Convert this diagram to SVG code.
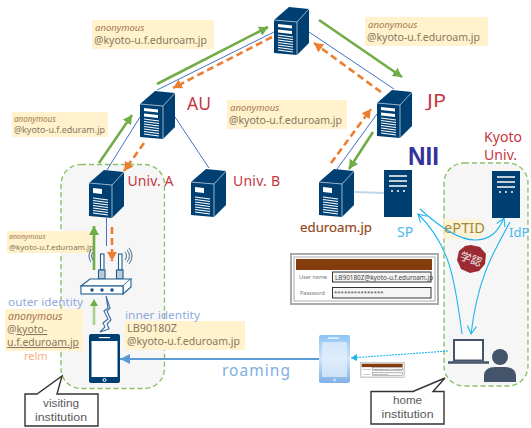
<svg xmlns="http://www.w3.org/2000/svg" width="531" height="428" viewBox="0 0 531 428">
<style>
text{font-family:"Noto Sans","Liberation Sans",sans-serif}
.zone{fill:#f6f6f6;stroke:#8cc068;stroke-width:1.4;stroke-dasharray:5 3}
.lab{fill:#fff2cc}
.an{font-style:italic;fill:#a5784f}
.em{fill:#8a7660}
.red{fill:#c6363f}
.idn{fill:#8faadc;font-size:11.5px}
.link{stroke:#4472c4;stroke-width:1;fill:none}
.gr{stroke:#70ad47;stroke-width:2.6;fill:none;marker-end:url(#gh)}
.or{stroke:#ed7d31;stroke-width:2.6;fill:none;stroke-dasharray:7 4;marker-end:url(#oh)}
.cy{stroke:#1eb4ef;stroke-width:1.1;fill:none}
.call{fill:#fff;stroke:#333;stroke-width:1.4}
.callt{fill:#595959;font-size:11.500px;text-anchor:middle;font-family:"Liberation Sans",sans-serif}
.navy{fill:#003f72}
.w{fill:#fff}
</style>
<defs>
<marker id="gh" markerUnits="userSpaceOnUse" markerWidth="10" markerHeight="10" refX="9" refY="5" orient="auto"><path d="M0 0L9 5L0 10Z" fill="#70ad47"/></marker>
<marker id="oh" markerUnits="userSpaceOnUse" markerWidth="10" markerHeight="10" refX="9" refY="5" orient="auto"><path d="M0 0L9 5L0 10Z" fill="#ed7d31"/></marker>
<marker id="bh" markerUnits="userSpaceOnUse" markerWidth="11" markerHeight="10" refX="10" refY="5" orient="auto"><path d="M0 0L10 5L0 10Z" fill="#5b9bd5"/></marker>
<marker id="ch" markerUnits="userSpaceOnUse" markerWidth="7" markerHeight="7" refX="6" refY="3.5" orient="auto"><path d="M0 0L6 3.5L0 7Z" fill="#1eb4ef"/></marker>
<marker id="co" markerUnits="userSpaceOnUse" markerWidth="10" markerHeight="10" refX="9" refY="5" orient="auto"><path d="M1 0.5L9 5L1 9.5" fill="none" stroke="#1eb4ef" stroke-width="1.1"/></marker>
<linearGradient id="tab" x1="0" y1="0" x2="0" y2="1"><stop offset="0" stop-color="#8fc3f5"/><stop offset=".5" stop-color="#cfe4fa"/><stop offset="1" stop-color="#7fb0e6"/></linearGradient>
<g id="tower">
<path class="navy" d="M0 13L15 0L35 2L35 36L23 48L0 46Z"/>
<path d="M0 13L23 15L35 2M23 15V48" stroke="#fff" stroke-width=".6" fill="none"/>
<g stroke="#fff" stroke-width="1.1"><path d="M4 28L19 30M4 30.5L19 32.5M4 33L19 35M4 35.5L19 37.5M4 38L19 40M4 40.5L19 42.5M4 43L19 45"/></g>
</g>
<g id="t2"><use href="#tower"/><path class="w" d="M4 17L18 18.5V21.500L4 20ZM4 22.500L18 24V27L4 25.500Z"/></g>
<g id="t1"><use href="#tower"/><path class="w" d="M4 18L13 19V24L4 23Z"/></g>
<g id="rack">
<rect class="navy" width="28" height="47"/>
<path d="M5 6H23M5 11H23M5 16H23" stroke="#fff" stroke-width="1.6"/>
<circle class="w" cx="8" cy="21" r="1"/><circle class="w" cx="14" cy="21" r="1"/><circle class="w" cx="20" cy="21" r="1"/>
</g>
<g id="form">
<rect x="291" y="254" width="147" height="50" fill="#fff" stroke="#aaa" stroke-width="2"/>
<rect x="294" y="257" width="141" height="44" fill="#fff" stroke="#aaa" stroke-width="1"/>
<rect x="296" y="259" width="136" height="11" fill="#843c0c"/>
<rect x="332.500" y="272" width="98.500" height="10" fill="#f5f5f5" stroke="#333" stroke-width="1"/>
<rect x="332.500" y="287.500" width="98.500" height="10.500" fill="#f5f5f5" stroke="#333" stroke-width="1"/>
<text x="299" y="279" font-size="5.500" fill="#777">User name</text>
<text x="300" y="295" font-size="5.500" fill="#777">Password</text>
<text x="335" y="280" font-size="6.400" fill="#444">LB90180Z@kyoto-u.f.eduroam.jp</text>
<text x="334" y="295" font-size="6" fill="#444">***************</text>
</g>
</defs>
<rect width="531" height="428" fill="#fff"/>

<g id="visiting-zone"><rect class="zone" x="61" y="164.500" width="103.500" height="224" rx="20"/></g>
<g id="home-zone"><rect class="zone" x="444" y="163" width="84" height="223" rx="20"/></g>

<g id="labels">
<rect class="lab" x="92" y="20" width="122" height="29"/>
<text class="an" x="95" y="31" font-size="9.500">anonymous</text>
<text class="em" x="94" y="44" font-size="10" textLength="113" lengthAdjust="spacingAndGlyphs">@kyoto-u.f.eduroam.jp</text>
<rect class="lab" x="365" y="17" width="123" height="29"/>
<text class="an" x="368" y="28" font-size="9.500">anonymous</text>
<text class="em" x="367" y="41" font-size="10" textLength="113" lengthAdjust="spacingAndGlyphs">@kyoto-u.f.eduroam.jp</text>
<rect class="lab" x="227" y="100" width="120" height="29"/>
<text class="an" x="230" y="111" font-size="9.500">anonymous</text>
<text class="em" x="229" y="124" font-size="10" textLength="113" lengthAdjust="spacingAndGlyphs">@kyoto-u.f.eduroam.jp</text>
<rect class="lab" x="12" y="112" width="96" height="25"/>
<text class="an" x="14" y="122" font-size="8">anonymous</text>
<text class="em" x="14" y="133" font-size="8.500" textLength="91" lengthAdjust="spacingAndGlyphs">@kyoto-u.f.eduram.jp</text>
<rect class="lab" x="7" y="231" width="87" height="22"/>
<text class="an" x="9" y="239" font-size="7">anonymous</text>
<text class="em" x="9" y="249.500" font-size="7.500" textLength="85" lengthAdjust="spacingAndGlyphs">@kyoto-u.f.eduroam.jp</text>
<rect class="lab" x="5" y="309" width="78" height="42"/>
<text class="an" x="8" y="320" font-size="10.500">anonymous</text>
<text class="em" x="7" y="333" font-size="10.500">@<tspan text-decoration="underline">kyoto-</tspan></text>
<text class="em" x="7" y="346" font-size="10.500" text-decoration="underline" textLength="72" lengthAdjust="spacingAndGlyphs">u.f.eduroam.jp</text>
<rect class="lab" x="125" y="321" width="120" height="29"/>
<text class="em" x="127" y="332" font-size="10.500" textLength="50" lengthAdjust="spacingAndGlyphs">LB90180Z</text>
<text class="em" x="127" y="345" font-size="10" textLength="113" lengthAdjust="spacingAndGlyphs">@kyoto-u.f.eduroam.jp</text>
<text class="idn" x="8" y="306" textLength="75" lengthAdjust="spacingAndGlyphs">outer identity</text>
<text class="idn" x="125" y="319" textLength="75" lengthAdjust="spacingAndGlyphs">inner identity</text>
<text x="24" y="360" font-size="11" fill="#f4b183">relm</text>
<rect x="443" y="219" width="39" height="20" fill="#fff2cc" opacity=".75"/>
<text x="444" y="233" font-size="14" fill="#a08a3c" textLength="41" lengthAdjust="spacingAndGlyphs">ePTID</text>
<text x="222" y="376" font-size="15.500" fill="#7eb0e0" textLength="68">roaming</text>
<text class="red" x="187" y="110" font-size="18" textLength="24" lengthAdjust="spacingAndGlyphs">AU</text>
<text class="red" x="427" y="107" font-size="18" textLength="19" lengthAdjust="spacingAndGlyphs">JP</text>
<text class="red" x="127.500" y="186" font-size="14" textLength="46">Univ. A</text>
<text class="red" x="233" y="186" font-size="14" textLength="47">Univ. B</text>
<text class="red" x="484" y="142" font-size="14" textLength="38">Kyoto</text>
<text class="red" x="484" y="160" font-size="14" textLength="33">Univ.</text>
<text x="408" y="165" font-size="25" font-weight="700" fill="#333399" style="font-family:'Liberation Sans',sans-serif" textLength="31" lengthAdjust="spacingAndGlyphs">NII</text>
<text x="300" y="232" font-size="13" fill="#94491a" stroke="#94491a" stroke-width=".2" textLength="72" lengthAdjust="spacingAndGlyphs">eduroam.jp</text>
<text x="397" y="237" font-size="14" fill="#4db8ee">SP</text>
<text x="509" y="237" font-size="13" fill="#4db8ee">IdP</text>
</g>

<g id="connectors">
<path class="link" d="M157 90L274 32M309 32L394 89M140 117L107 170M175 117L209 168M377 114L337 169M106.500 218V246"/>
<path d="M355 192L384 193" stroke="#bdd7ee" stroke-width="2" fill="none"/>
<path class="gr" d="M157 84L268 27"/>
<path class="gr" d="M319 20L402 77"/>
<path class="gr" d="M99 163L132 115"/>
<path class="gr" d="M373 132L349 169"/>
<path class="gr" d="M94 270V226"/>
<path d="M94 325V305" stroke="#a9d18e" stroke-width="2.600" fill="none"/>
<path d="M94 299L90 306H98Z" fill="#70ad47"/>
<path class="or" d="M272 37L173 88"/>
<path class="or" d="M144 143L124 171"/>
<path class="or" d="M381 92L314 43"/>
<path class="or" d="M331 163L371 109"/>
<path class="or" d="M112 227V261"/>
<path class="cy" d="M462 334C455 280 450 245 418 214" marker-end="url(#co)"/>
<path class="cy" d="M420 209C445 232 462 240 475 240C490 240 498 232 504 218" marker-end="url(#co)"/>
<path class="cy" d="M510 222C495 250 478 275 471 334" marker-end="url(#co)"/>
<path d="M448 351L351 358" stroke="#1eb4ef" stroke-width="1.100" stroke-dasharray="2 1" fill="none" marker-end="url(#ch)"/>
<path d="M319 359H120" stroke="#5b9bd5" stroke-width="2" fill="none" marker-end="url(#bh)"/>
</g>

<g id="server-top"><use href="#t2" x="274" y="7"/></g>
<g id="server-au"><use href="#t2" x="140" y="91"/></g>
<g id="server-jp"><use href="#t2" x="377" y="90"/></g>
<g id="server-univ-a"><use href="#t1" x="89" y="170"/></g>
<g id="server-univ-b"><use href="#t1" x="191" y="169"/></g>
<g id="server-eduroam"><use href="#t1" x="319" y="169"/></g>
<g id="server-sp"><use href="#rack" x="384" y="170"/></g>
<g id="server-idp"><use href="#rack" x="492" y="171"/></g>

<g id="access-point" fill="none" stroke="#1f5c8c" stroke-width="1.100">
<rect x="100.500" y="254" width="3.500" height="16" fill="#fff"/><rect x="118.500" y="254" width="3.500" height="16" fill="#fff"/>
<rect x="98.500" y="270" width="6.500" height="9" fill="#b7cbdc"/><rect x="116.500" y="270" width="6.500" height="9" fill="#b7cbdc"/>
<path d="M81 286L90 279H131L123 286Z" fill="#fff"/>
<path d="M131 279V287L123 294V286" fill="#fff"/>
<rect x="81" y="286" width="42" height="8" fill="#fff"/>
<circle cx="92" cy="290" r="1.200" fill="#1f3c6c"/><circle cx="102" cy="290" r="1.200" fill="#1f3c6c"/><circle cx="112" cy="290" r="1.200" fill="#1f3c6c"/>
<path d="M125 252Q128 256 125 260M127 250Q132 256 127 262M129 248Q135 256 129 264" stroke="#5d7c96"/>
<path d="M93 252Q90 256 93 260M91 250Q87 256 91 262" stroke="#5d7c96"/>
<path d="M106 296L108 308L104 311L108 319L103 323L105 327L100 332L109 329L107 324L111 320L107 311L110 308Z" fill="#fff" stroke="#3a6ba0"/>
</g>

<g id="phone">
<rect class="navy" x="89" y="334" width="31" height="49" rx="2"/>
<rect class="w" x="91.500" y="341" width="26" height="36"/>
<rect class="w" x="99" y="337" width="11" height="1.200"/>
<circle cx="104.500" cy="380" r="1.500" fill="none" stroke="#fff"/>
</g>
<g id="tablet">
<rect x="319" y="335" width="31" height="48" rx="2" fill="url(#tab)"/>
<rect x="322" y="342" width="25" height="35" fill="#e6f1fc" opacity=".7"/>
<rect class="w" x="328" y="337.500" width="11" height="1.200"/>
<circle cx="334.500" cy="380" r="1.500" fill="#cde"/>
</g>
<g id="login-form"><use href="#form"/></g>
<g id="login-mini"><use href="#form" transform="translate(360 362) scale(.3) translate(-290 -253)"/></g>
<g id="seal">
<path d="M471 245L480 247L486 254L485 264L479 271L470 273L461 269L457 260L459 251L465 246Z" fill="#9b2a33"/>
<text x="471" y="263" font-size="11" fill="#eee" text-anchor="middle" transform="rotate(20 471 259)" style="font-family:'Noto Sans CJK JP',sans-serif">学認</text>
</g>
<g id="laptop">
<rect x="454" y="340" width="29" height="20.500" fill="#fff" stroke="#44546a" stroke-width="2"/>
<path d="M448 362.500H489" stroke="#44546a" stroke-width="2.500"/>
</g>
<g id="person" fill="#44546a">
<circle cx="500" cy="357" r="8"/>
<path d="M484 382V375Q485 367 495 367H505Q515 367 516 375V382Z"/>
</g>
<g id="callout-visiting">
<path class="call" d="M25 394H37L62 376L57 394H98V426H25Z"/>
<text class="callt" x="61" y="407" textLength="36" lengthAdjust="spacingAndGlyphs">visiting</text>
<text class="callt" x="61" y="420.500" textLength="52" lengthAdjust="spacingAndGlyphs">institution</text>
</g>
<g id="callout-home">
<path class="call" d="M371 391.500H413L445 378L433 391.500H444V424H371Z"/>
<text class="callt" x="407.500" y="404" textLength="29" lengthAdjust="spacingAndGlyphs">home</text>
<text class="callt" x="407.500" y="418" textLength="52" lengthAdjust="spacingAndGlyphs">institution</text>
</g>
</svg>
